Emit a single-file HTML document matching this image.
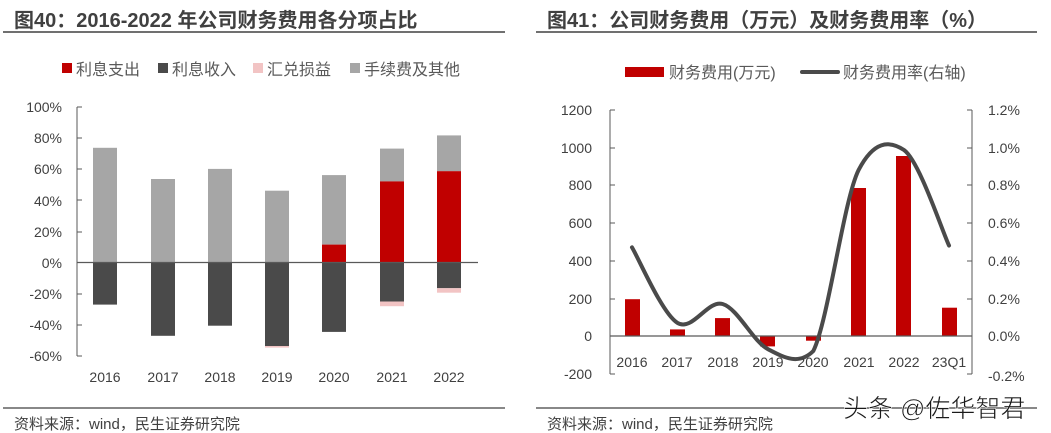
<!DOCTYPE html>
<html><head><meta charset="utf-8"><style>
html,body{margin:0;padding:0;background:#fff;}
svg{display:block;font-family:"Liberation Sans","Noto Sans CJK SC",sans-serif;}
</style></head><body>
<svg width="1051" height="433" viewBox="0 0 1051 433" xmlns="http://www.w3.org/2000/svg">
<rect width="1051" height="433" fill="#fff"/>
<!-- LEFT -->
<text x="14" y="27" font-size="20" font-weight="bold" fill="#404040">图40：2016-2022 年公司财务费用各分项占比</text>
<line x1="3" y1="32" x2="505" y2="32" stroke="#404040" stroke-width="1.5"/>
<g font-size="16" fill="#595959">
<rect x="62" y="63" width="10" height="10" fill="#c00000"/><text x="76" y="75">利息支出</text>
<rect x="158" y="63" width="10" height="10" fill="#4a4a4a"/><text x="172" y="75">利息收入</text>
<rect x="253" y="63" width="10" height="10" fill="#f2c4c4"/><text x="267" y="75">汇兑损益</text>
<rect x="350" y="63" width="10" height="10" fill="#a6a6a6"/><text x="364" y="75">手续费及其他</text>
</g>
<g font-size="14" fill="#404040" text-anchor="end">
<text x="62" y="112">100%</text><text x="62" y="143">80%</text><text x="62" y="174">60%</text><text x="62" y="206">40%</text><text x="62" y="237">20%</text><text x="62" y="268">0%</text><text x="62" y="299">-20%</text><text x="62" y="330">-40%</text><text x="62" y="361">-60%</text>
</g>
<line x1="77" y1="107" x2="77" y2="356" stroke="#595959"/>
<g stroke="#595959"><line x1="77" y1="107" x2="82" y2="107"/><line x1="77" y1="138" x2="82" y2="138"/><line x1="77" y1="169" x2="82" y2="169"/><line x1="77" y1="200" x2="82" y2="200"/><line x1="77" y1="232" x2="82" y2="232"/><line x1="77" y1="294" x2="82" y2="294"/><line x1="77" y1="325" x2="82" y2="325"/><line x1="77" y1="356" x2="82" y2="356"/></g>
<g>
<rect x="93" y="147.8" width="24" height="114.7" fill="#a6a6a6"/><rect x="93" y="262.5" width="24" height="42.1" fill="#4a4a4a"/>
<rect x="151" y="179" width="24" height="83.5" fill="#a6a6a6"/><rect x="151" y="262.5" width="24" height="73.3" fill="#4a4a4a"/>
<rect x="208" y="168.9" width="24" height="93.6" fill="#a6a6a6"/><rect x="208" y="262.5" width="24" height="63.2" fill="#4a4a4a"/>
<rect x="265" y="190.7" width="24" height="71.8" fill="#a6a6a6"/><rect x="265" y="262.5" width="24" height="83.5" fill="#4a4a4a"/><rect x="265" y="346" width="24" height="1.6" fill="#f2c4c4"/>
<rect x="322" y="175.1" width="24" height="69.5" fill="#a6a6a6"/><rect x="322" y="244.6" width="24" height="17.9" fill="#c00000"/><rect x="322" y="262.5" width="24" height="69.4" fill="#4a4a4a"/>
<rect x="380" y="148.6" width="24" height="32.8" fill="#a6a6a6"/><rect x="380" y="181.4" width="24" height="81.1" fill="#c00000"/><rect x="380" y="262.5" width="24" height="39" fill="#4a4a4a"/><rect x="380" y="301.5" width="24" height="4.7" fill="#f2c4c4"/>
<rect x="437" y="135.4" width="24" height="35.9" fill="#a6a6a6"/><rect x="437" y="171.2" width="24" height="91.3" fill="#c00000"/><rect x="437" y="262.5" width="24" height="25.7" fill="#4a4a4a"/><rect x="437" y="288.2" width="24" height="4.5" fill="#f2c4c4"/>
</g>
<line x1="77" y1="262.5" x2="478" y2="262.5" stroke="#595959" stroke-width="1.2"/>
<g font-size="14" fill="#404040" text-anchor="middle">
<text x="105" y="382">2016</text><text x="163" y="382">2017</text><text x="220" y="382">2018</text><text x="277" y="382">2019</text><text x="334" y="382">2020</text><text x="392" y="382">2021</text><text x="449" y="382">2022</text>
</g>
<line x1="3" y1="408" x2="505" y2="408" stroke="#404040" stroke-width="1.2"/>
<text x="14" y="429" font-size="15" fill="#404040">资料来源：wind，民生证券研究院</text>
<!-- RIGHT -->
<text x="547" y="27" font-size="20" font-weight="bold" fill="#404040">图41：公司财务费用（万元）及财务费用率（%）</text>
<line x1="536" y1="32" x2="1037" y2="32" stroke="#404040" stroke-width="1.5"/>
<g font-size="16" fill="#595959">
<rect x="625" y="67" width="39" height="10" fill="#c00000"/><text x="669" y="78">财务费用(万元)</text>
<line x1="802" y1="72" x2="838" y2="72" stroke="#4a4a4a" stroke-width="4" stroke-linecap="round"/><text x="843" y="78">财务费用率(右轴)</text>
</g>
<g font-size="14" fill="#404040" text-anchor="end">
<text x="592" y="115">1200</text><text x="592" y="153">1000</text><text x="592" y="190">800</text><text x="592" y="228">600</text><text x="592" y="266">400</text><text x="592" y="304">200</text><text x="592" y="341">0</text><text x="592" y="379">-200</text>
</g>
<g font-size="14" fill="#404040">
<text x="988" y="115">1.2%</text><text x="988" y="153">1.0%</text><text x="988" y="190">0.8%</text><text x="988" y="228">0.6%</text><text x="988" y="266">0.4%</text><text x="988" y="304">0.2%</text><text x="988" y="341">0.0%</text><text x="988" y="381">-0.2%</text>
</g>
<line x1="610" y1="110" x2="610" y2="374" stroke="#595959"/>
<line x1="972" y1="110" x2="972" y2="374" stroke="#595959"/>
<g stroke="#595959">
<line x1="610" y1="110" x2="615" y2="110"/><line x1="610" y1="148" x2="615" y2="148"/><line x1="610" y1="185" x2="615" y2="185"/><line x1="610" y1="223" x2="615" y2="223"/><line x1="610" y1="261" x2="615" y2="261"/><line x1="610" y1="299" x2="615" y2="299"/><line x1="610" y1="374" x2="615" y2="374"/>
<line x1="967" y1="110" x2="972" y2="110"/><line x1="967" y1="148" x2="972" y2="148"/><line x1="967" y1="185" x2="972" y2="185"/><line x1="967" y1="223" x2="972" y2="223"/><line x1="967" y1="261" x2="972" y2="261"/><line x1="967" y1="299" x2="972" y2="299"/><line x1="967" y1="374" x2="972" y2="374"/>
</g>
<g fill="#c00000">
<rect x="625" y="299.2" width="15" height="36.8"/>
<rect x="670" y="329.4" width="15" height="6.6"/>
<rect x="715" y="318.1" width="15" height="17.9"/>
<rect x="760" y="336" width="15" height="10.4"/>
<rect x="806" y="336" width="15" height="4.7"/>
<rect x="851" y="188" width="15" height="148"/>
<rect x="896" y="156" width="15" height="180"/>
<rect x="942" y="307.7" width="15" height="28.3"/>
</g>
<line x1="610" y1="336" x2="972" y2="336" stroke="#595959" stroke-width="1.2"/>
<path d="M632,247.4 C639.5,260 662.2,313.4 677.3,322.8 C692.4,332.2 707.5,299.6 722.6,304 C737.7,308.4 752.9,341.4 768,349.2 C783.1,357 798.2,366 813.3,351 C828.4,320.5 843.5,200.3 858.6,170 C873.7,141 888.9,140 904,150 C919.1,160.7 941.5,229.2 949,245.5" fill="none" stroke="#4a4a4a" stroke-width="4" stroke-linecap="round"/>
<g font-size="14" fill="#404040" text-anchor="middle">
<text x="632" y="367">2016</text><text x="677" y="367">2017</text><text x="723" y="367">2018</text><text x="768" y="367">2019</text><text x="813" y="367">2020</text><text x="859" y="367">2021</text><text x="904" y="367">2022</text><text x="949" y="367">23Q1</text>
</g>
<line x1="536" y1="408" x2="1037" y2="408" stroke="#404040" stroke-width="1.2"/>
<text x="547" y="429" font-size="15" fill="#404040">资料来源：wind，民生证券研究院</text>
<text x="843" y="417" font-size="25" fill="#1a1a1a" stroke="#fff" stroke-width="0.6">头条 @佐华智君</text>
</svg>
</body></html>
